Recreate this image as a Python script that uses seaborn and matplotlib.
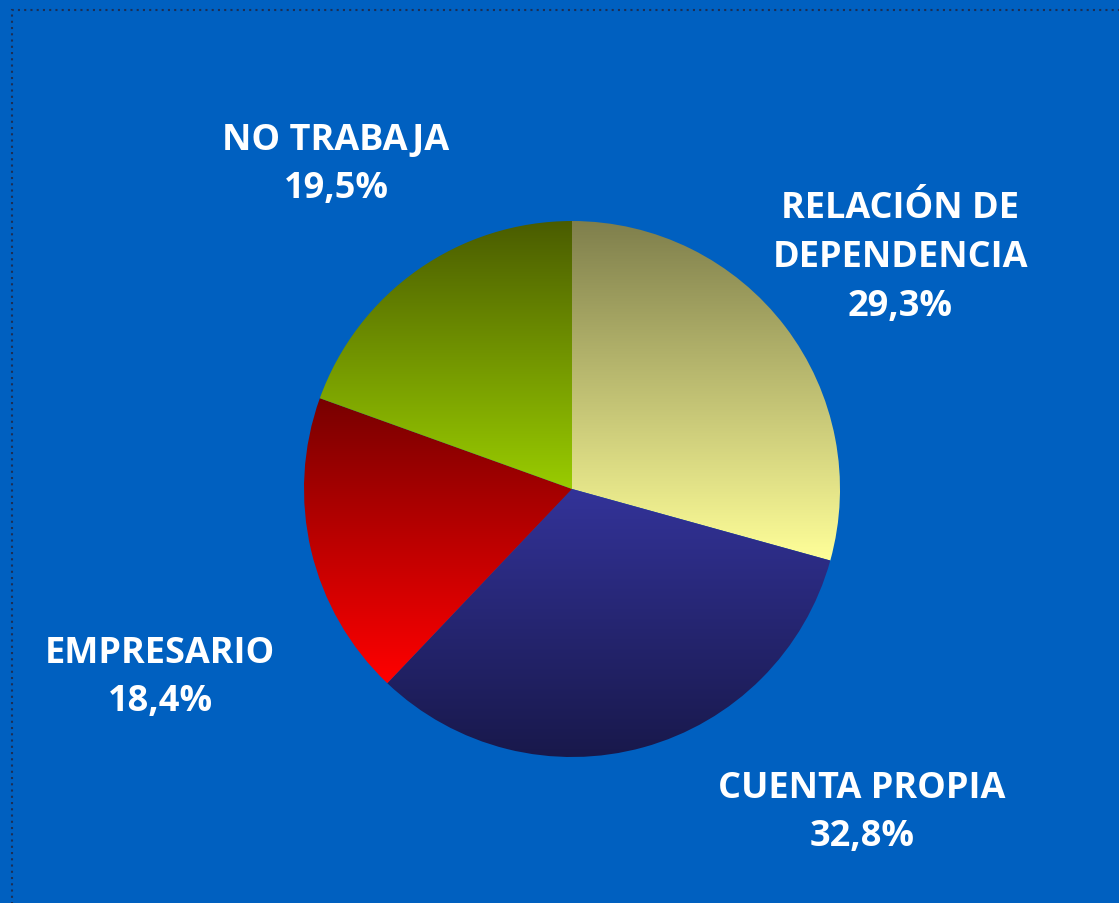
import numpy as np
import matplotlib
matplotlib.use("Agg")
import matplotlib.pyplot as plt
import seaborn as sns
from matplotlib.colors import LinearSegmentedColormap
from matplotlib.patches import Rectangle

sns.set_style("white")
plt.rcParams['font.family'] = ['Open Sans', 'DejaVu Sans']

# data
categorias = ["RELACIÓN DE\nDEPENDENCIA", "CUENTA PROPIA", "EMPRESARIO", "NO TRABAJA"]
porcentajes = [29.3, 32.8, 18.4, 19.5]
# gradient top -> bottom for each slice
colores_arriba = ["#7f7f4c", "#333399", "#780000", "#4a5c00"]
colores_abajo = ["#ffff99", "#18184a", "#ff0000", "#99cc00"]
# label anchor (center of text block, pixel coords from top-left)
pos_etiquetas = [(900, 258), (862, 813), (160, 678), (336, 165)]

bg = "#0060c0"
W, H = 1119, 904
fig = plt.figure(figsize=(W / 100, H / 100), dpi=100, facecolor=bg)
ax = fig.add_axes([0, 0, 1, 1])
ax.set_facecolor(bg)

wedges, _ = ax.pie(porcentajes, center=(572, H - 490), radius=268,
                   startangle=90, counterclock=False,
                   wedgeprops=dict(linewidth=0, edgecolor="none"))

grad = np.linspace(0, 1, 256).reshape(-1, 1)
for w, c1, c2 in zip(wedges, colores_arriba, colores_abajo):
    w.set_facecolor("none")
    v = w.get_path().vertices
    x0, x1 = v[:, 0].min(), v[:, 0].max()
    y0, y1 = v[:, 1].min(), v[:, 1].max()
    cmap = LinearSegmentedColormap.from_list("g", [c1, c2])
    im = ax.imshow(grad, cmap=cmap, aspect="auto", origin="upper",
                   extent=[x0, x1, y0, y1], interpolation="bilinear", zorder=1)
    im.set_clip_path(w)

for cat, val, (x, y) in zip(categorias, porcentajes, pos_etiquetas):
    txt = cat + "\n" + f"{val:.1f}".replace(".", ",") + "%"
    ax.text(x, H - y, txt, ha="center", va="center", color="white",
            fontsize=26, fontweight="bold", linespacing=1.47, zorder=3)

ax.set_xlim(0, W)
ax.set_ylim(0, H)
ax.set_aspect("auto")
ax.set_axis_off()

# dotted frame
fig.patches.append(Rectangle((12 / W, -0.1), 1.2, (H - 11) / H + 0.1,
                             transform=fig.transFigure, fill=False,
                             edgecolor="#1c2f55", linestyle=(0, (1, 2)),
                             linewidth=1.5))

fig.savefig("out.png", dpi=100, facecolor=bg)
